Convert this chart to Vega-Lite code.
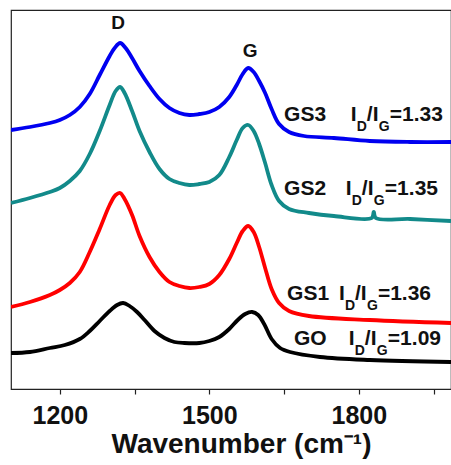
{
  "$schema": "https://vega.github.io/schema/vega-lite/v6.json",
  "width": 440,
  "height": 379,
  "autosize": {"type": "none"},
  "padding": {"left": 11, "top": 10, "right": 0, "bottom": 76},
  "background": "white",
  "config": {
    "font": "Liberation Sans",
    "view": {"stroke": "#222", "strokeWidth": 1.2}
  },
  "datasets": {
    "spectra": [
      {"s":"GS3","x":1102,"y":259},{"s":"GS3","x":1140,"y":262},{"s":"GS3","x":1180,"y":266},{"s":"GS3","x":1200,"y":269},{"s":"GS3","x":1220,"y":274},{"s":"GS3","x":1240,"y":282},{"s":"GS3","x":1260,"y":295},{"s":"GS3","x":1280,"y":314},{"s":"GS3","x":1300,"y":333},{"s":"GS3","x":1310,"y":341},{"s":"GS3","x":1321,"y":346},{"s":"GS3","x":1332,"y":341},{"s":"GS3","x":1345,"y":331},{"s":"GS3","x":1360,"y":318},{"s":"GS3","x":1380,"y":303},{"s":"GS3","x":1400,"y":290},{"s":"GS3","x":1420,"y":281},{"s":"GS3","x":1440,"y":276},{"s":"GS3","x":1460,"y":274},{"s":"GS3","x":1480,"y":275},{"s":"GS3","x":1500,"y":277},{"s":"GS3","x":1520,"y":282},{"s":"GS3","x":1540,"y":292},{"s":"GS3","x":1555,"y":304},{"s":"GS3","x":1567,"y":315},{"s":"GS3","x":1578,"y":321},{"s":"GS3","x":1589,"y":317},{"s":"GS3","x":1600,"y":308},{"s":"GS3","x":1612,"y":296},{"s":"GS3","x":1625,"y":280},{"s":"GS3","x":1640,"y":265},{"s":"GS3","x":1660,"y":257},{"s":"GS3","x":1690,"y":253},{"s":"GS3","x":1750,"y":251},{"s":"GS3","x":1822,"y":248},{"s":"GS3","x":1903,"y":247},{"s":"GS3","x":1985,"y":247},
      {"s":"GS2","x":1102,"y":186},{"s":"GS2","x":1140,"y":191},{"s":"GS2","x":1180,"y":197},{"s":"GS2","x":1200,"y":201},{"s":"GS2","x":1220,"y":208},{"s":"GS2","x":1240,"y":218},{"s":"GS2","x":1260,"y":235},{"s":"GS2","x":1280,"y":258},{"s":"GS2","x":1300,"y":284},{"s":"GS2","x":1312,"y":298},{"s":"GS2","x":1321,"y":302},{"s":"GS2","x":1330,"y":296},{"s":"GS2","x":1345,"y":278},{"s":"GS2","x":1360,"y":258},{"s":"GS2","x":1380,"y":237},{"s":"GS2","x":1400,"y":220},{"s":"GS2","x":1420,"y":210},{"s":"GS2","x":1440,"y":206},{"s":"GS2","x":1460,"y":204},{"s":"GS2","x":1480,"y":205},{"s":"GS2","x":1500,"y":207},{"s":"GS2","x":1520,"y":214},{"s":"GS2","x":1540,"y":232},{"s":"GS2","x":1555,"y":249},{"s":"GS2","x":1567,"y":261},{"s":"GS2","x":1578,"y":264},{"s":"GS2","x":1589,"y":258},{"s":"GS2","x":1600,"y":245},{"s":"GS2","x":1612,"y":226},{"s":"GS2","x":1625,"y":204},{"s":"GS2","x":1640,"y":188},{"s":"GS2","x":1660,"y":180},{"s":"GS2","x":1700,"y":176},{"s":"GS2","x":1750,"y":173},{"s":"GS2","x":1826,"y":171},{"s":"GS2","x":1830,"y":177},{"s":"GS2","x":1834,"y":171},{"s":"GS2","x":1903,"y":170},{"s":"GS2","x":1985,"y":168},
      {"s":"GS1","x":1102,"y":82},{"s":"GS1","x":1140,"y":87},{"s":"GS1","x":1180,"y":94},{"s":"GS1","x":1200,"y":99},{"s":"GS1","x":1220,"y":106},{"s":"GS1","x":1240,"y":117},{"s":"GS1","x":1260,"y":137},{"s":"GS1","x":1280,"y":160},{"s":"GS1","x":1300,"y":184},{"s":"GS1","x":1312,"y":194},{"s":"GS1","x":1321,"y":196},{"s":"GS1","x":1330,"y":190},{"s":"GS1","x":1345,"y":174},{"s":"GS1","x":1360,"y":153},{"s":"GS1","x":1380,"y":132},{"s":"GS1","x":1400,"y":117},{"s":"GS1","x":1420,"y":107},{"s":"GS1","x":1440,"y":103},{"s":"GS1","x":1460,"y":101},{"s":"GS1","x":1480,"y":102},{"s":"GS1","x":1500,"y":105},{"s":"GS1","x":1520,"y":114},{"s":"GS1","x":1540,"y":130},{"s":"GS1","x":1555,"y":146},{"s":"GS1","x":1567,"y":158},{"s":"GS1","x":1578,"y":163},{"s":"GS1","x":1589,"y":157},{"s":"GS1","x":1600,"y":142},{"s":"GS1","x":1612,"y":121},{"s":"GS1","x":1625,"y":100},{"s":"GS1","x":1640,"y":86},{"s":"GS1","x":1660,"y":78},{"s":"GS1","x":1700,"y":73},{"s":"GS1","x":1822,"y":69},{"s":"GS1","x":1985,"y":66},
      {"s":"GO","x":1102,"y":36},{"s":"GO","x":1140,"y":37},{"s":"GO","x":1180,"y":41},{"s":"GO","x":1210,"y":44},{"s":"GO","x":1240,"y":50},{"s":"GO","x":1260,"y":58},{"s":"GO","x":1280,"y":68},{"s":"GO","x":1300,"y":78},{"s":"GO","x":1315,"y":84},{"s":"GO","x":1327,"y":86},{"s":"GO","x":1340,"y":83},{"s":"GO","x":1355,"y":77},{"s":"GO","x":1370,"y":69},{"s":"GO","x":1390,"y":58},{"s":"GO","x":1410,"y":51},{"s":"GO","x":1430,"y":47},{"s":"GO","x":1450,"y":46},{"s":"GO","x":1480,"y":46},{"s":"GO","x":1500,"y":48},{"s":"GO","x":1520,"y":52},{"s":"GO","x":1540,"y":60},{"s":"GO","x":1557,"y":69},{"s":"GO","x":1572,"y":75},{"s":"GO","x":1586,"y":77},{"s":"GO","x":1598,"y":74},{"s":"GO","x":1610,"y":65},{"s":"GO","x":1625,"y":50},{"s":"GO","x":1642,"y":41},{"s":"GO","x":1662,"y":37},{"s":"GO","x":1722,"y":32},{"s":"GO","x":1822,"y":29},{"s":"GO","x":1985,"y":27}
    ],
    "peaks": [
      {"label":"D","x":1317,"y":366},
      {"label":"G","x":1582,"y":338}
    ],
    "labels": [
      {"name":"GS3","xn":1650,"xi":1784,"y":268,"ratio":"=1.33"},
      {"name":"GS2","xn":1650,"xi":1774,"y":194,"ratio":"=1.35"},
      {"name":"GS1","xn":1656,"xi":1760,"y":89,"ratio":"=1.36"},
      {"name":"GO","xn":1670,"xi":1780,"y":44,"ratio":"=1.09"}
    ]
  },
  "layer": [
    {
      "data": {"name": "spectra"},
      "mark": {"type": "line", "strokeWidth": 3.8, "interpolate": "catmull-rom", "clip": true},
      "encoding": {
        "x": {
          "field": "x", "type": "quantitative",
          "scale": {"domain": [1102, 1985], "nice": false, "zero": false},
          "axis": {
            "values": [1200, 1350, 1500, 1650, 1800, 1950],
            "labelExpr": "datum.value % 300 == 0 ? format(datum.value, 'd') : ''",
            "domain": false, "grid": false,
            "tickColor": "#222", "tickSize": 5, "tickWidth": 1.2,
            "labelFontSize": 25, "labelFontWeight": "bold", "labelColor": "#111",
            "labelPadding": 9,
            "title": "Wavenumber (cm⁻¹)",
            "titleFontSize": 28, "titleFontWeight": "bold", "titleColor": "#111",
            "titleBaseline": "alphabetic", "titleY": 63, "titleX": 230
          }
        },
        "y": {
          "field": "y", "type": "quantitative",
          "scale": {"domain": [0, 379], "nice": false, "zero": false},
          "axis": null
        },
        "color": {
          "field": "s", "type": "nominal",
          "scale": {"domain": ["GS3", "GS2", "GS1", "GO"], "range": ["#0000f0", "#128a8a", "#ff0000", "#000000"]},
          "legend": null
        },
        "detail": {"field": "s"}
      }
    },
    {
      "data": {"name": "peaks"},
      "mark": {"type": "text", "fontSize": 19, "fontWeight": "bold", "baseline": "middle", "align": "center", "color": "#111"},
      "encoding": {
        "x": {"field": "x", "type": "quantitative"},
        "y": {"field": "y", "type": "quantitative"},
        "text": {"field": "label"}
      }
    },
    {
      "data": {"name": "labels"},
      "mark": {"type": "text", "fontSize": 21, "fontWeight": "bold", "baseline": "alphabetic", "align": "left", "color": "#111"},
      "encoding": {
        "x": {"field": "xn", "type": "quantitative"},
        "y": {"field": "y", "type": "quantitative"},
        "text": {"field": "name"}
      }
    },
    {
      "data": {"name": "labels"},
      "mark": {"type": "text", "fontSize": 21, "fontWeight": "bold", "baseline": "alphabetic", "align": "left", "color": "#111", "text": "I"},
      "encoding": {
        "x": {"field": "xi", "type": "quantitative"},
        "y": {"field": "y", "type": "quantitative"}
      }
    },
    {
      "data": {"name": "labels"},
      "mark": {"type": "text", "fontSize": 14, "fontWeight": "bold", "baseline": "alphabetic", "align": "left", "color": "#111", "text": "D", "dx": 6, "dy": 10},
      "encoding": {
        "x": {"field": "xi", "type": "quantitative"},
        "y": {"field": "y", "type": "quantitative"}
      }
    },
    {
      "data": {"name": "labels"},
      "mark": {"type": "text", "fontSize": 21, "fontWeight": "bold", "baseline": "alphabetic", "align": "left", "color": "#111", "text": "/I", "dx": 16},
      "encoding": {
        "x": {"field": "xi", "type": "quantitative"},
        "y": {"field": "y", "type": "quantitative"}
      }
    },
    {
      "data": {"name": "labels"},
      "mark": {"type": "text", "fontSize": 14, "fontWeight": "bold", "baseline": "alphabetic", "align": "left", "color": "#111", "text": "G", "dx": 28, "dy": 10},
      "encoding": {
        "x": {"field": "xi", "type": "quantitative"},
        "y": {"field": "y", "type": "quantitative"}
      }
    },
    {
      "data": {"name": "labels"},
      "mark": {"type": "text", "fontSize": 21, "fontWeight": "bold", "baseline": "alphabetic", "align": "left", "color": "#111", "dx": 39},
      "encoding": {
        "x": {"field": "xi", "type": "quantitative"},
        "y": {"field": "y", "type": "quantitative"},
        "text": {"field": "ratio"}
      }
    }
  ]
}
